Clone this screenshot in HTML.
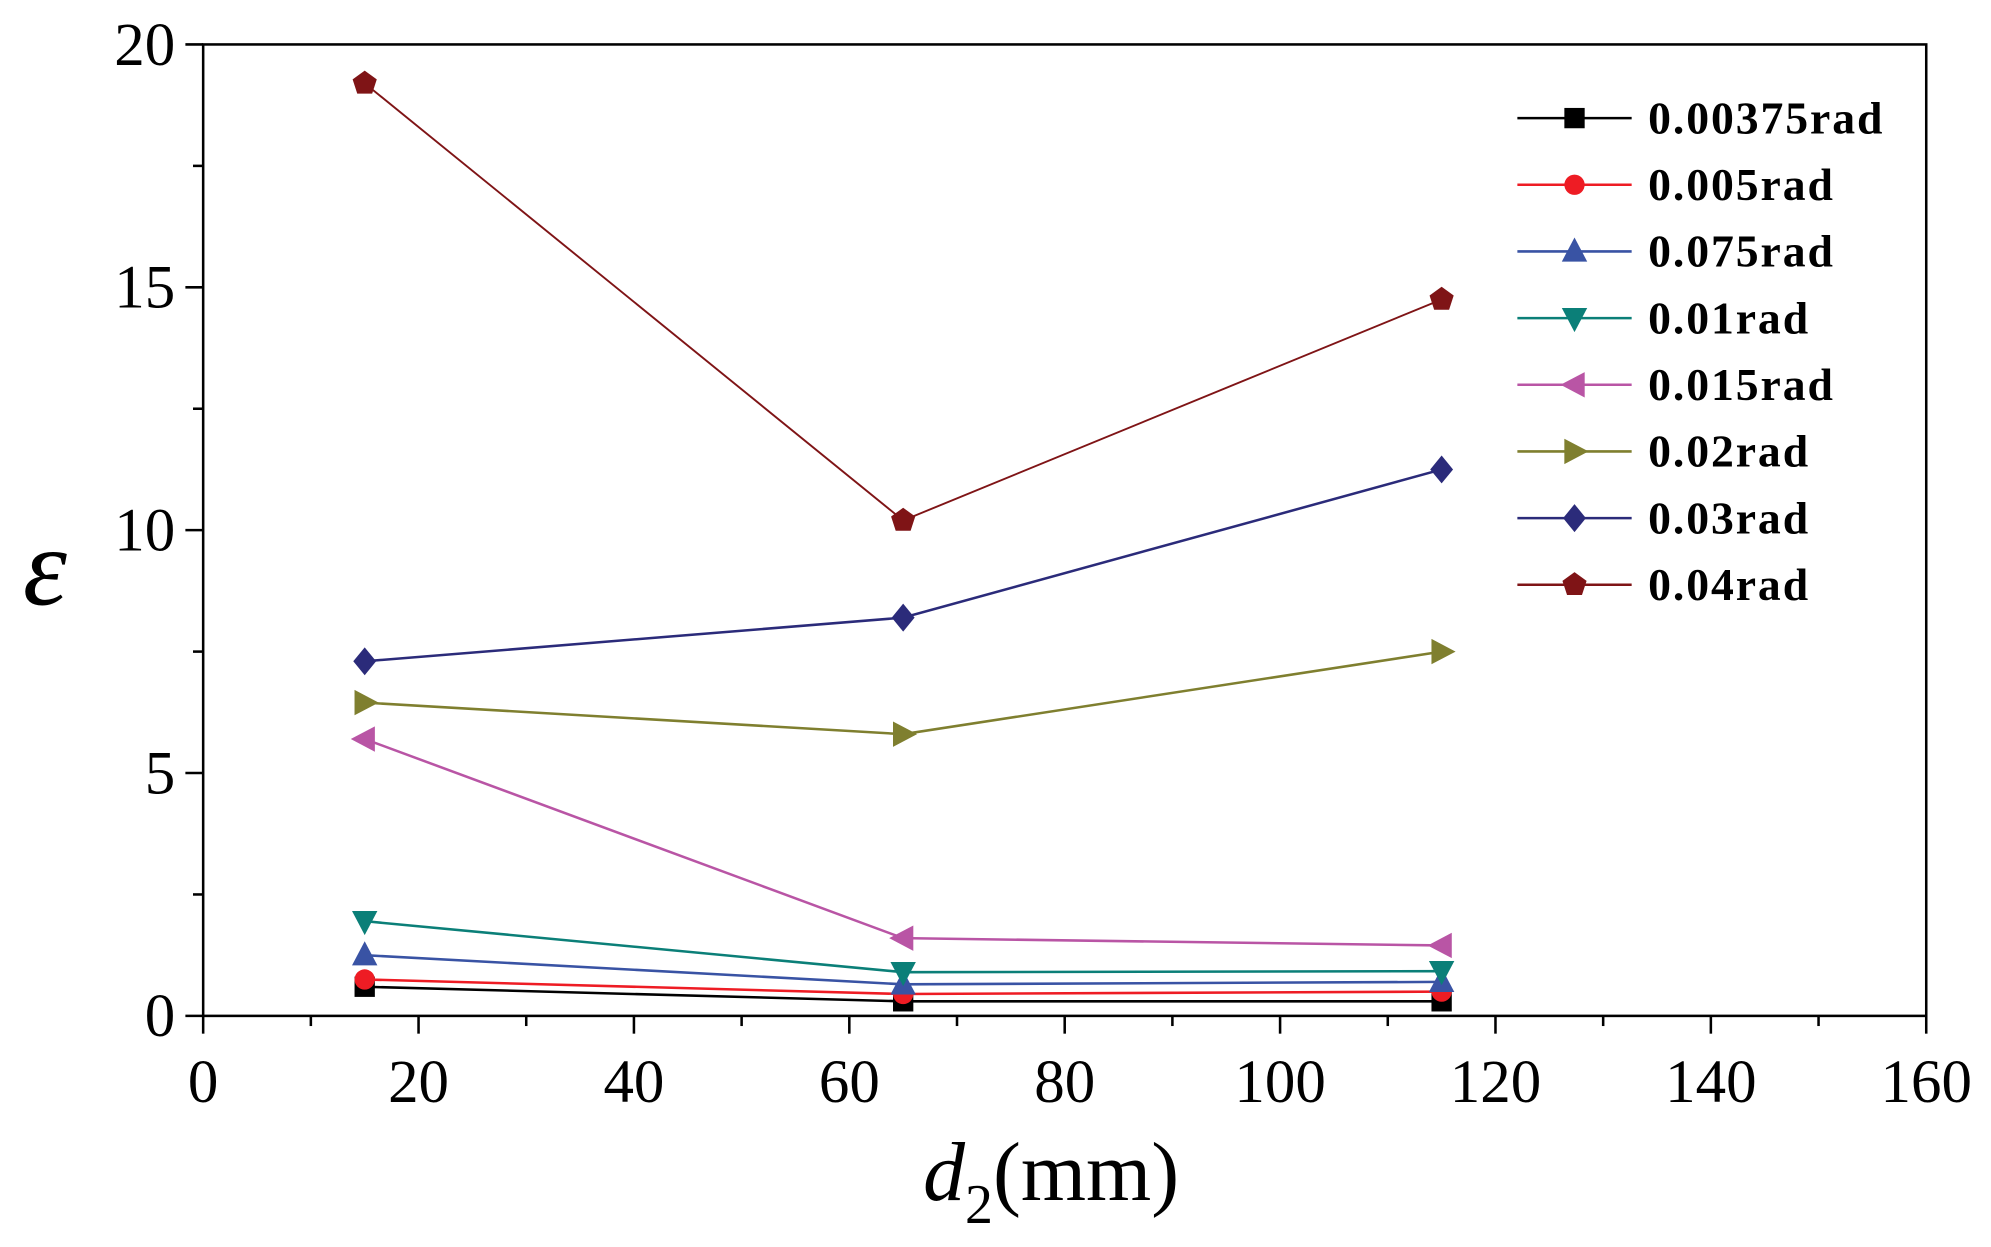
<!DOCTYPE html>
<html><head><meta charset="utf-8"><style>
html,body{margin:0;padding:0;background:#fff;}
svg{display:block;}
text{font-family:"Liberation Serif",serif;}
</style></head><body>
<svg id="chart" width="1991" height="1247" viewBox="0 0 1568 982" preserveAspectRatio="none" xmlns="http://www.w3.org/2000/svg">
<g id="axes"></g>
<g id="series"></g>
<g id="legend"></g>
<text x="18" y="476" font-size="88" font-style="italic">ε</text>
<text x="727" y="945" font-size="66"><tspan font-style="italic">d</tspan><tspan font-size="44" dy="18">2</tspan><tspan dy="-18">(mm)</tspan></text>
</svg>
<script>
const categories = [15, 65, 115];
const seriesNames = ["0.00375rad","0.005rad","0.075rad","0.01rad","0.015rad","0.02rad","0.03rad","0.04rad"];
const s1 = [0.6, 0.3, 0.3];
const s2 = [0.75, 0.45, 0.5];
const s3 = [1.25, 0.65, 0.7];
const s4 = [1.95, 0.9, 0.92];
const s5 = [5.7, 1.6, 1.45];
const s6 = [6.45, 5.8, 7.5];
const s7 = [7.3, 8.2, 11.25];
const s8 = [19.2, 10.2, 14.75];
const xTicks = [0,20,40,60,80,100,120,140,160];
const yTicks = [0,5,10,15,20];

const allSeries=[s1,s2,s3,s4,s5,s6,s7,s8];
const colors=["#000000","#ee1c24","#3953a4","#0b7f78","#b955a5","#7f7f2f","#2b2b7a","#7f1416"];
const markers=["square","circle","up","down","left","right","diamond","pentagon"];
const L=160,R=1517,T=35,B=800;
const X=v=>L+(v-0)/(160-0)*(R-L);
const Y=v=>B-(v-0)/(20-0)*(B-T);
const NS="http://www.w3.org/2000/svg";
function mk(tag,attrs,parent){const e=document.createElementNS(NS,tag);for(const k in attrs)e.setAttribute(k,attrs[k]);parent.appendChild(e);return e;}
const axes=document.getElementById('axes');
const frame=mk('rect',{x:L,y:T,width:R-L,height:B-T,fill:'none',stroke:'#000','stroke-width':2},axes);


for(let v=0;v<=160;v+=10){
  const major=v%20===0;
  const t=mk('line',{x1:X(v),x2:X(v),y1:B,y2:B+(major?14:8),stroke:'#000','stroke-width':2},axes);
  
  
}
xTicks.forEach(v=>{
  const t=mk('text',{x:X(v),y:B+68,'font-size':48,'text-anchor':'middle'},axes);t.textContent=v;
  
  
});
for(let v=0;v<=20;v+=2.5){
  const major=v%5===0;
  const t=mk('line',{x1:L,x2:L-(major?14:8),y1:Y(v),y2:Y(v),stroke:'#000','stroke-width':2},axes);
  
  
}
yTicks.forEach(v=>{
  const t=mk('text',{x:L-22,y:Y(v)+16,'font-size':48,'text-anchor':'end'},axes);t.textContent=v;
  
  
});
function marker(type,cx,cy,color,parent){
  const s=9;let e;
  if(type==='square')e=mk('rect',{x:cx-s+1,y:cy-s+1,width:2*s-2,height:2*s-2,fill:color},parent);
  else if(type==='circle')e=mk('circle',{cx:cx,cy:cy,r:s-1,fill:color},parent);
  else{
    let p;
    if(type==='up')p=[[cx,cy-s-2],[cx+s+1,cy+s-1],[cx-s-1,cy+s-1]];
    if(type==='down')p=[[cx,cy+s+2],[cx+s+1,cy-s+1],[cx-s-1,cy-s+1]];
    if(type==='left')p=[[cx-s-2,cy],[cx+s-1,cy-s-1],[cx+s-1,cy+s+1]];
    if(type==='right')p=[[cx+s+2,cy],[cx-s+1,cy-s-1],[cx-s+1,cy+s+1]];
    if(type==='diamond')p=[[cx,cy-s-2],[cx+s,cy],[cx,cy+s+2],[cx-s,cy]];
    if(type==='pentagon'){p=[];for(let i=0;i<5;i++){const a=-Math.PI/2+i*2*Math.PI/5;p.push([cx+(s+1)*Math.cos(a),cy+(s+1)*Math.sin(a)]);}}
    e=mk('polygon',{points:p.map(q=>q.join(',')).join(' '),fill:color},parent);
  }
  return e;
}
const sg=document.getElementById('series');
allSeries.forEach((vals,i)=>{
  const g=mk('g',{},sg);
  
  
  const pl=mk('polyline',{points:vals.map((v,j)=>X(categories[j])+','+Y(v)).join(' '),fill:'none',stroke:colors[i],'stroke-width':i===7?1.5:2},g);
  
  
  vals.forEach((v,j)=>{
    const m=marker(markers[i],X(categories[j]),Y(v),colors[i],g);
    
    
  });
});
const lg=document.getElementById('legend');
seriesNames.forEach((n,i)=>{
  const y=93+i*52.5;
  const g=mk('g',{},lg);
  
  
  mk('line',{x1:1195,x2:1285,y1:y,y2:y,stroke:colors[i],'stroke-width':2},g);
  marker(markers[i],1240,y,colors[i],g);
  const t=mk('text',{x:1298,y:y+12,'font-size':36,'font-weight':'bold','letter-spacing':1.5},g);t.textContent=n;
});
</script>
</body></html>
